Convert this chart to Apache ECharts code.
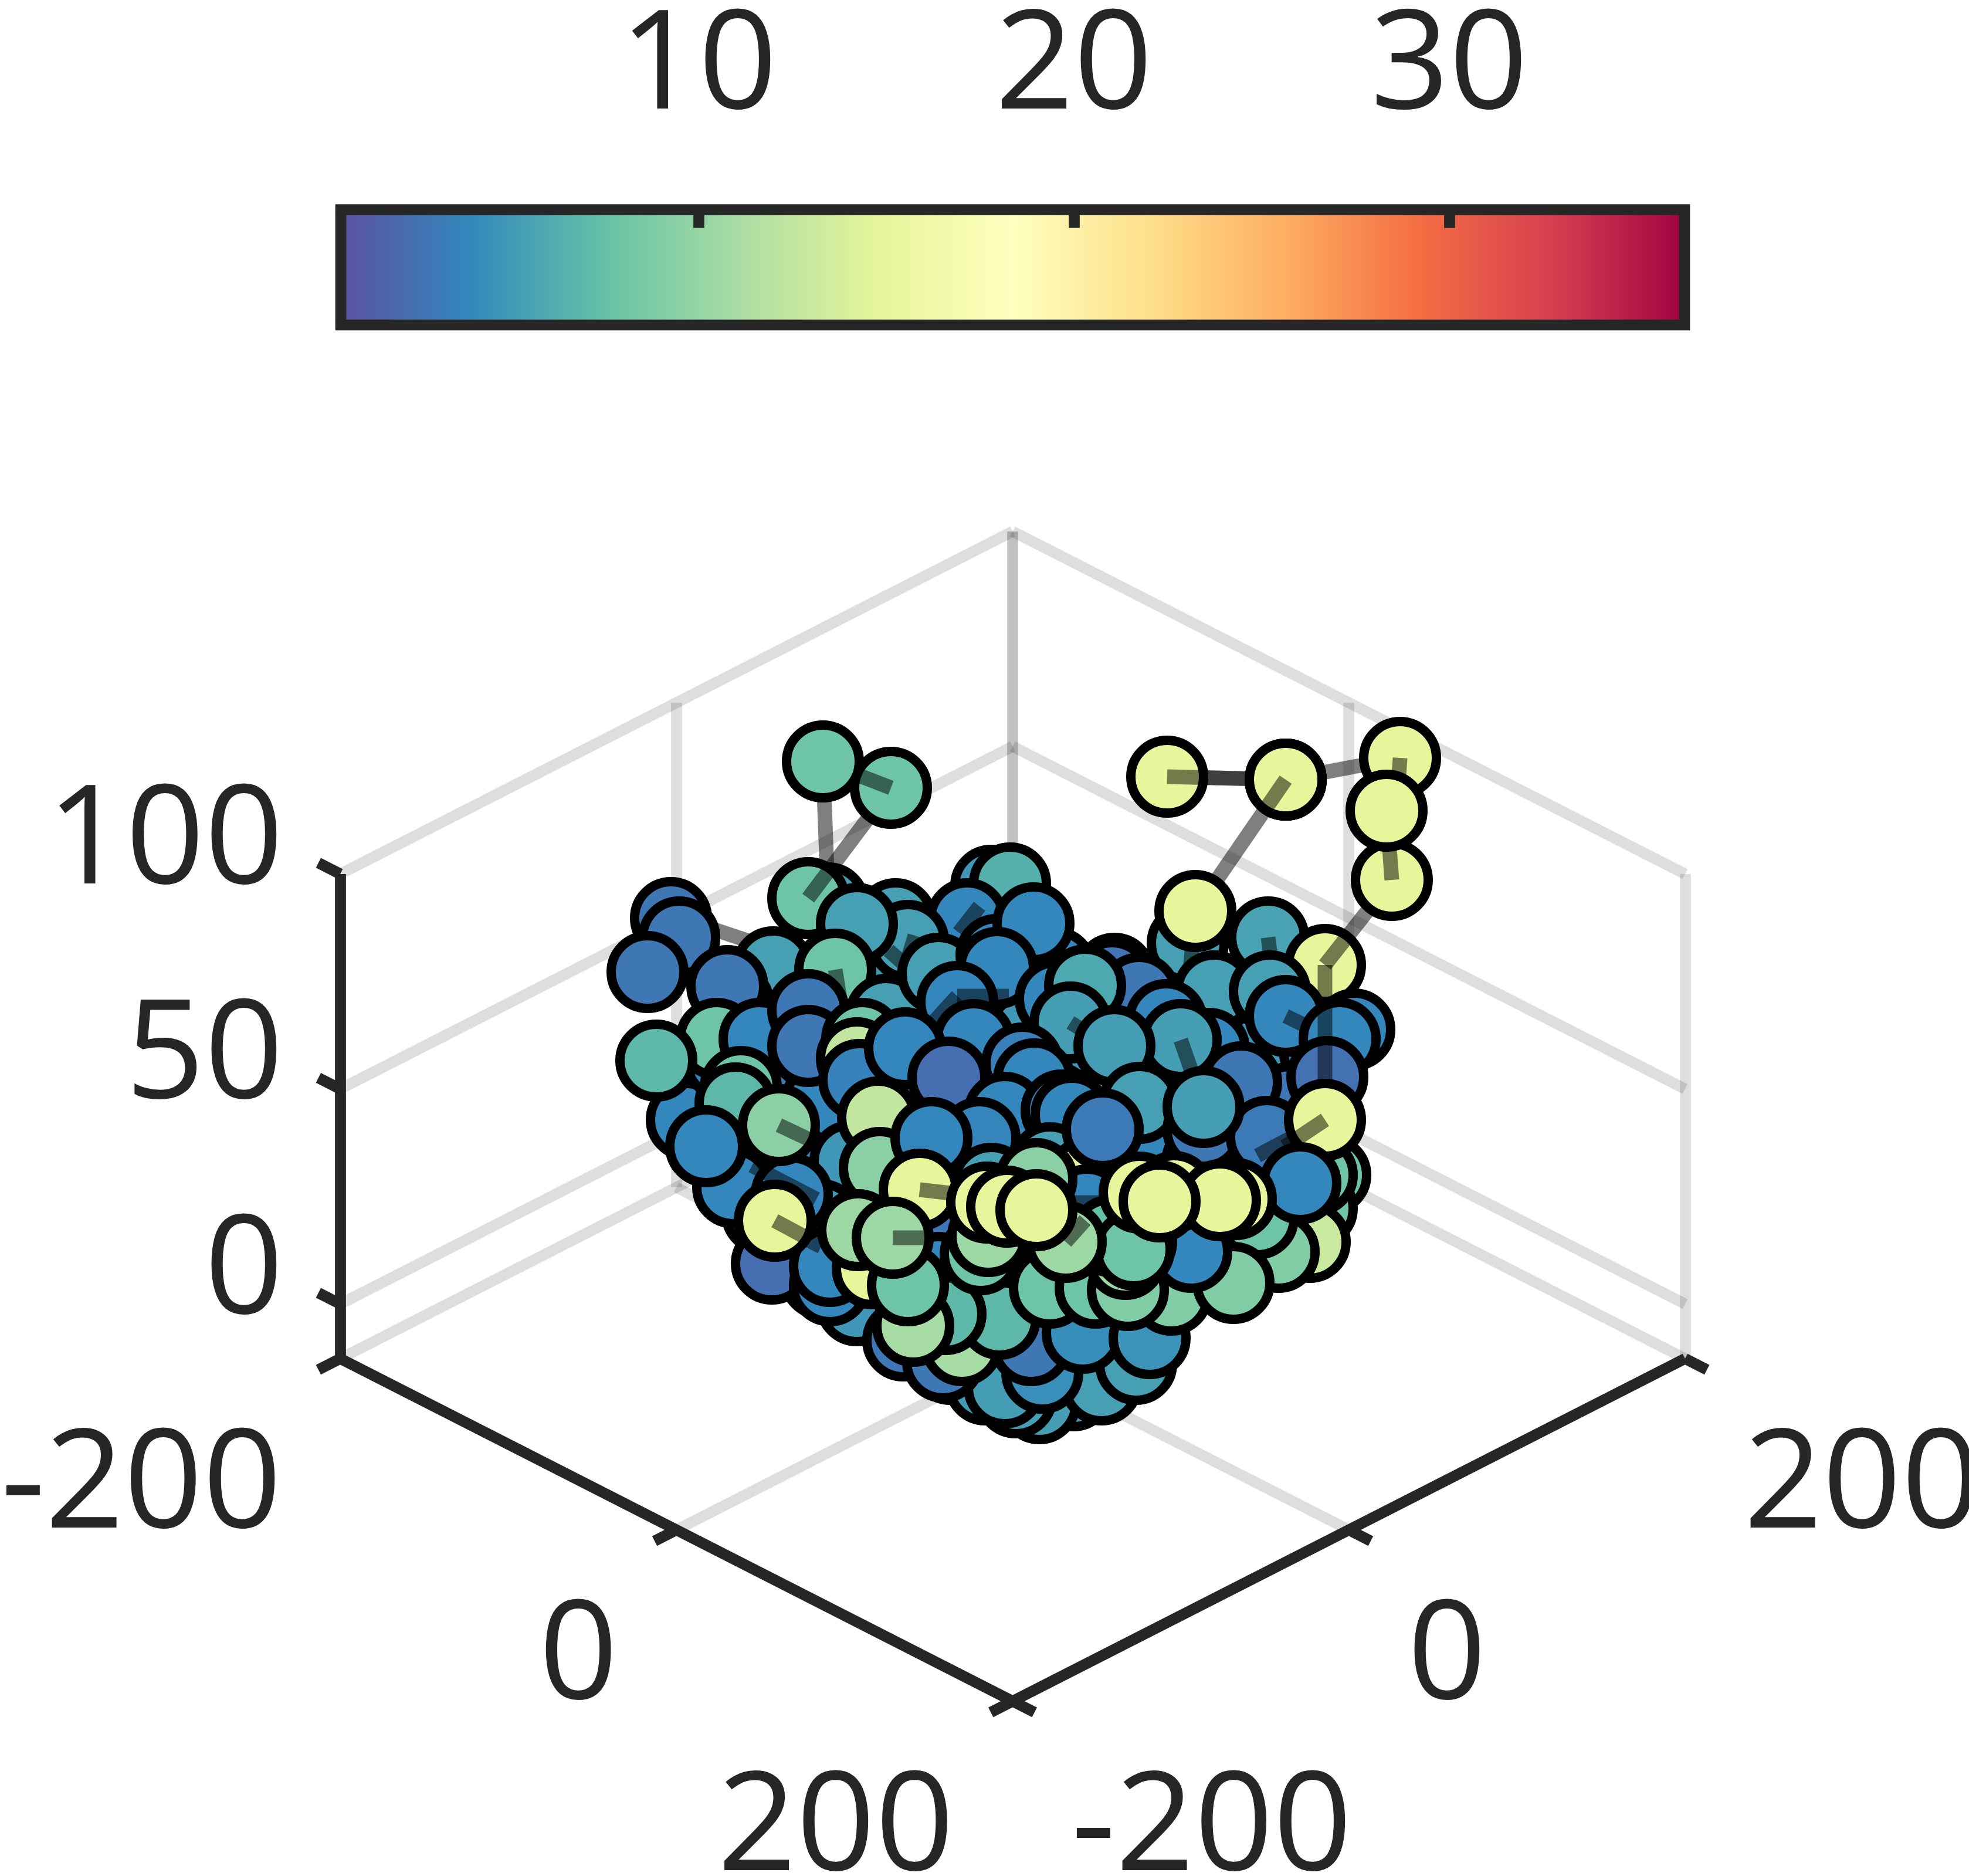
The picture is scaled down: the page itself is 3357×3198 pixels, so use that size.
<!DOCTYPE html>
<html><head><meta charset="utf-8">
<style>html,body{margin:0;padding:0;background:#fff}#c{width:3357px;height:3198px}</style>
<script src="https://cdn.jsdelivr.net/npm/echarts@6/dist/echarts.min.js"></script>
</head><body><div id="c"></div>
<script>
// --- tick values and labels
const xTicks=[-200,0,200], yTicks=[-200,0,200], zTicks=[0,50,100];
const colorTicks=[10,20,30];
const colorMin=0.47, colorMax=36.27, zFloor=-12.7;
const spectral=['#5e4fa2','#3288bd','#66c2a5','#abdda4','#e6f598','#ffffbf','#fee08b','#fdae61','#f46d43','#d53e4f','#9e0142'];
// --- points as read from the view plane: [viewX, viewY, value, linkToX, linkToY]; value 0 = link only
const coreLayer=[
[1300,1720,4],[1400,1680,4],[1500,1700,5],[1600,1650,5],[1700,1640,4],[1800,1650,4],[1900,1660,3],[2000,1680,5],[2100,1700,5.5],[2200,1700,5],
[1250,1800,4],[1350,1800,3],[1450,1780,4],[1550,1760,4],[1650,1760,4],[1750,1760,5],[1850,1770,5],[1950,1770,4],[2050,1780,4],[2150,1790,5],[2250,1790,4],
[1200,1880,4],[1300,1880,3],[1400,1880,4],[1500,1880,4],[1600,1870,5],[1700,1880,5],[1800,1880,4],[1900,1880,5],[2000,1880,4],[2100,1880,3],[2200,1880,3],
[1250,1970,4],[1350,1980,4],[1450,1980,5],[1550,1980,4],[1650,1970,4],[1750,1980,4],[1850,1980,5],[1950,1980,4],[2050,1980,3],[2150,1980,3],[2250,1980,5],
[1300,2070,4],[1400,2080,5],[1500,2080,4],[1600,2080,3],[1700,2080,4],[1800,2080,5],[1900,2080,5],[2000,2080,4],[2100,2080,7],[2200,2060,8],
[1400,2180,3],[1500,2180,5],[1600,2170,4],[1700,2170,4],[1800,2170,3.5],[1900,2170,3],[2000,2170,0.8],[2100,2150,0.8],
[1461,2225,5],[1560,2260,4],[1660,2260,3],[1760,2260,4],[1860,2260,1],[1960,2240,1],
[1540,2285,3],[1620,2325,3],[1720,2340,3.5],[1820,2340,5],[1900,2330,4],
[1680,2360,5.2],[1740,2370,5],[1830,2370,5]
];
const lowerLayer=[
[1772,2392,5.4],[1732,2382,5.4],[1713,2365,5.3],[1878,2360,5.5],[1937,2325,5.5],[1777,2340,4.5],[1758,2293,3],[1846,2272,4.4],[1960,2281,4.7],
[1608,2321,3],[1640,2293,11],[1704,2248,7],[1612,2240,7],[1557,2260,11],[1790,2195,8],[1868,2195,8],
[1316,2154,2.5],[1415,2191,4],[1415,2158,4],
[2268,2003,8],[2245,2060,8],[2233,2117,13],[2180,2134,9],[2144,2077,8],[1997,2207,9],[2103,2187,9],[2031,2134,4],[1923,2199,9],[1919,2146,10.5],[1937,2117,8],
[1672,2138,8]
];
const upperBack=[
[1690,1510,5],[1722,1506,6.5],[1649,1567,4],[1670,1545,0,1635,1590],
[1412,1540,5.5,1403,1298],[1378,1531,8,1519,1343],[1519,1343,8,1403,1298],[1403,1298,8],
[1144,1565,3],[1160,1565,0,1300,1612],[1158,1598,3],[1104,1657,3],
[1318,1649,5.5],[1250,1710,3.5],[1240,1681,3],
[1527,1567,5.5],[1548,1604,5.5],[1560,1595,0,1540,1660],[1515,1620,0,1560,1660],
[1461,1575,5.5],[1424,1653,8,1435,1720],
[1511,1730,5.5],[1600,1660,5.5],
[1699,1628,4],[1762,1574,4],
[2025,1608,5.5],[2028,1665,0,2038,1553],[2162,1598,5.7,2170,1660],
[2192,1329,15,2387,1292],[2192,1329,15,1990,1324],[1990,1324,15,2192,1329],[2192,1329,15,2038,1553],[2038,1553,15],
[2259,1645,15,2373,1500],[2387,1292,15,2373,1500],[2373,1500,15,2364,1382],[2364,1382,15]
];
const middleLayer=[
[1896,1669,2.8],[1942,1694,3],[2070,1690,5.5],[2165,1690,5.5],[2061,1788,4],[1988,1739,4],[2116,1845,3],
[2192,1732,4,2260,1765],[2309,1755,4],[2284,1771,4],[2263,1836,2.6],[2259,1645,0,2259,1960],
[1171,1909,4],[1233,1808,4],[1222,1771,8],[1295,1771,4],[1378,1722,3],[1378,1783,3],[1470,1771,8],[1461,1804,12.5],
[1119,1808,7],[1263,1853,8],[1465,1841,3.7],
[1225,1860,0,1265,1886],[1254,1881,7],[1250,2024,4],
[1497,1905,12.5],[1350,2036,4],[1282,1987,0,1392,2044],[1370,2110,0,1400,2125],
[1328,1918,9.5,1385,1945],[1204,1954,4],[1321,2081,15,1375,2110],
[1500,1991,9.5],[1488,2162,15],[1548,2191,8],[1463,2097,10.5]
];
const centerLayer=[
[1700,1650,4],[1800,1703,4],[1850,1680,6],[1825,1743,5.4,1862,1766],[1632,1708,4],[1632,1698,0,1720,1698],[1632,1698,0,1585,1750],
[1660,1773,4],[1543,1787,4],[1743,1813,3.5],[1763,1840,4],[1617,1837,2.5],[2013,1773,5.4,2040,1850],[1900,1783,5.3],
[1943,1880,5.5],[1713,1897,4],[1810,1893,3],[1827,1900,4],[1670,1940,3.8],[1588,1940,4],
[1790,1983,5.5],[1690,2018,5.5],[1853,2007,15],[1853,2055,4],[1820,2050,0,1880,2050],
[1893,2107,7.5],[1933,2130,8],[1817,2117,10.5,1850,2080],[1685,2107,10.5],[1767,2010,9.5],
[1568,2028,15,1620,2034],[1522,2110,10.5,1590,2110]
];
const frontLayer=[
[2052,1926,3],[1880,1925,3.2],[2160,1938,3.2],[2259,1909,0,2144,1970],[2245,2003,8],[2052,1887,5.4],[2259,1909,15,2190,1955],[2217,2017,4],
[1683,2050,15],[1717,2057,15],[1943,2033,15],[2002,2032,15],[2107,2044,15],[2080,2046,15],[1977,2048,15],[1767,2063,15]
];

// --- isometric view of the 3D box
const cx=1726.5, k=2.866, kv=1.46, kz=7.33, yFloor=2316;
function project(x,y,z){return [cx+(x+y)*k, yFloor+(x-y)*kv-(z-zFloor)*kz];}
function seg(a,b){return {coords:[project(...a),project(...b)]};}

const gridSegs=[];
zTicks.forEach(z=>{gridSegs.push(seg([-200,-200,z],[-200,200,z]),seg([-200,200,z],[200,200,z]));});
[[-200,0],[0,200],[-200,200],[-200,200],[200,200]].forEach(p=>gridSegs.push(seg([p[0],p[1],zFloor],[p[0],p[1],100])));
gridSegs.push(seg([0,-200,zFloor],[0,200,zFloor]),seg([-200,0,zFloor],[200,0,zFloor]),seg([-200,-200,zFloor],[-200,200,zFloor]),seg([-200,200,zFloor],[200,200,zFloor]));

const tickLen=13;
const axisSegs=[seg([-200,-200,zFloor],[-200,-200,100]),seg([-200,-200,zFloor],[200,-200,zFloor]),seg([200,-200,zFloor],[200,200,zFloor])];
xTicks.forEach(x=>axisSegs.push(seg([x,-200,zFloor],[x,-200-tickLen,zFloor])));
yTicks.forEach(y=>axisSegs.push(seg([200,y,zFloor],[200+tickLen,y,zFloor])));
zTicks.forEach(z=>axisSegs.push(seg([-200,-200,z],[-200-tickLen,-200,z])));

const labelFont={fontFamily:'"Open Sans","Noto Sans",sans-serif',fontSize:235,color:'#262626',opacity:1};
function labels(vals,fn,align,offset){return vals.map(v=>({value:fn(v),itemStyle:{opacity:1},label:{show:true,formatter:String(v),align:align,verticalAlign:'middle',offset:offset,...labelFont}}));}
const tickLabelData=[].concat(
 labels(xTicks,v=>project(v,-200,zFloor),'right',[-100,221]),
 labels(yTicks,v=>project(200,v,zFloor),'left',[100,221]),
 labels(zTicks,v=>project(-200,-200,v),'right',[-97,-51])
);

const pointRows=[].concat(coreLayer,lowerLayer,upperBack,middleLayer,centerLayer,frontLayer).map(r=>[r[0],r[1],r[2],r[3]||0,r[4]||0]);

const chart=echarts.init(document.getElementById('c'),null,{renderer:'canvas'});
chart.setOption({
 animation:false,backgroundColor:'#fff',
 grid:[{left:0,right:0,top:0,bottom:0,show:false,outerBoundsMode:'none'},{left:581,width:2291,top:357.5,height:196.5,show:false,outerBoundsMode:'none'}],
 xAxis:[{gridIndex:0,type:'value',min:0,max:3357,show:false},
  {gridIndex:1,type:'value',position:'top',min:colorMin,max:colorMax,z:6,splitLine:{show:false},axisLine:{show:false,onZero:false},
   axisTick:{show:true,inside:true,length:31,lineStyle:{color:'#262626',width:18.7},customValues:colorTicks},
   axisLabel:{show:true,margin:122,customValues:colorTicks,formatter:v=>String(v),...labelFont}}],
 yAxis:[{gridIndex:0,type:'value',min:0,max:3198,inverse:true,show:false},
  {gridIndex:1,type:'value',min:0,max:1,show:false}],
 visualMap:{show:false,seriesIndex:3,dimension:2,min:colorMin,max:colorMax,inRange:{color:spectral}},
 series:[
  {type:'lines',coordinateSystem:'cartesian2d',xAxisIndex:0,yAxisIndex:0,data:gridSegs,z:1,silent:true,lineStyle:{color:'#000',opacity:0.13,width:18.7,curveness:0}},
  {type:'lines',coordinateSystem:'cartesian2d',xAxisIndex:0,yAxisIndex:0,data:axisSegs,z:2,silent:true,lineStyle:{color:'#262626',opacity:1,width:18.7,curveness:0}},
  {type:'scatter',xAxisIndex:0,yAxisIndex:0,symbolSize:0,itemStyle:{opacity:1},data:tickLabelData,z:3,silent:true},
  {type:'custom',xAxisIndex:0,yAxisIndex:0,z:4,silent:true,data:pointRows,dimensions:['viewX','viewY','value','linkX','linkY'],encode:{x:0,y:1},
   renderItem:function(params,api){
    const c=api.coord([api.value(0),api.value(1)]),kids=[];
    if(api.value(2)>0)kids.push({type:'circle',shape:{cx:c[0],cy:c[1],r:62},style:{fill:api.visual('color'),stroke:'#000',lineWidth:16}});
    if(api.value(3)>0){const t=api.coord([api.value(3),api.value(4)]);
     kids.push({type:'line',shape:{x1:c[0],y1:c[1],x2:t[0],y2:t[1]},style:{stroke:'rgba(0,0,0,0.5)',lineWidth:25}});}
    return {type:'group',children:kids};
   }},
  {type:'custom',xAxisIndex:1,yAxisIndex:1,z:5,silent:true,data:[[colorMin,0,colorMax,1]],encode:{x:[0,2],y:[1,3]},
   renderItem:function(params,api){
    const a=api.coord([api.value(0),api.value(3)]),b=api.coord([api.value(2),api.value(1)]);
    const stops=spectral.map((c,i)=>({offset:i/(spectral.length-1),color:c}));
    return {type:'rect',shape:{x:a[0],y:a[1],width:b[0]-a[0],height:b[1]-a[1]},
     style:{fill:new echarts.graphic.LinearGradient(0,0,1,0,stops),stroke:'#262626',lineWidth:18.7}};
   }}
 ]
});
</script></body></html>
